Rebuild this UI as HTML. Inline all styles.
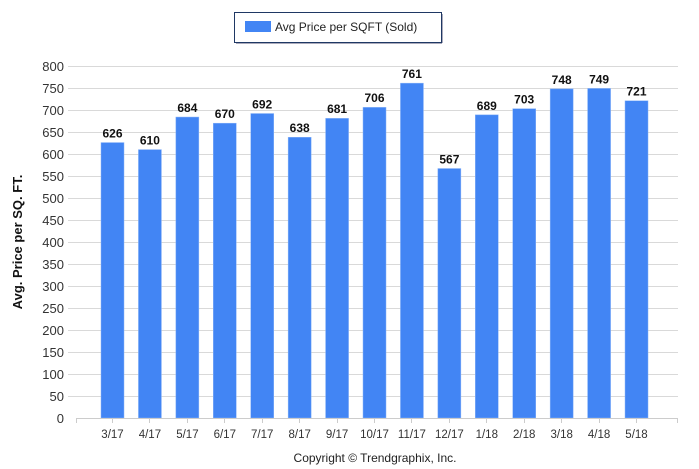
<!DOCTYPE html>
<html><head><meta charset="utf-8"><style>
body{margin:0;background:#fff;}
svg{display:block;font-family:"Liberation Sans",sans-serif;}
</style></head><body>
<svg width="699" height="469" viewBox="0 0 699 469" xmlns="http://www.w3.org/2000/svg">
<rect x="234.5" y="12.5" width="207" height="30" fill="#fff" stroke="#1f3864" stroke-width="1"/>
<line x1="236" y1="43.5" x2="442" y2="43.5" stroke="#aab"/>
<line x1="442.5" y1="14" x2="442.5" y2="43" stroke="#aab"/>
<rect x="245" y="21" width="26" height="11" fill="#4285f4"/>
<text x="275" y="31" font-size="12" fill="#222">Avg Price per SQFT (Sold)</text>
<g stroke="#d9d9d9" stroke-width="1">
<line x1="68" y1="66.5" x2="678" y2="66.5"/><line x1="68" y1="88.5" x2="678" y2="88.5"/>
<line x1="68" y1="110.5" x2="678" y2="110.5"/><line x1="68" y1="132.5" x2="678" y2="132.5"/>
<line x1="68" y1="154.5" x2="678" y2="154.5"/><line x1="68" y1="176.5" x2="678" y2="176.5"/>
<line x1="68" y1="198.5" x2="678" y2="198.5"/><line x1="68" y1="220.5" x2="678" y2="220.5"/>
<line x1="68" y1="242.5" x2="678" y2="242.5"/><line x1="68" y1="264.5" x2="678" y2="264.5"/>
<line x1="68" y1="286.5" x2="678" y2="286.5"/><line x1="68" y1="308.5" x2="678" y2="308.5"/>
<line x1="68" y1="330.5" x2="678" y2="330.5"/><line x1="68" y1="352.5" x2="678" y2="352.5"/>
<line x1="68" y1="374.5" x2="678" y2="374.5"/><line x1="68" y1="396.5" x2="678" y2="396.5"/>
</g>
<g font-size="13" fill="#333" text-anchor="end">
<text x="64" y="71">800</text><text x="64" y="93">750</text><text x="64" y="115">700</text>
<text x="64" y="137">650</text><text x="64" y="159">600</text><text x="64" y="181">550</text>
<text x="64" y="203">500</text><text x="64" y="225">450</text><text x="64" y="247">400</text>
<text x="64" y="269">350</text><text x="64" y="291">300</text><text x="64" y="313">250</text>
<text x="64" y="335">200</text><text x="64" y="357">150</text><text x="64" y="379">100</text>
<text x="64" y="401">50</text><text x="64" y="423">0</text>
</g>
<g fill="#4285f4" stroke="#8ab4f8" stroke-width="0.5">
<rect x="101" y="142.56" width="23" height="275.44"/>
<rect x="138.43" y="149.6" width="23" height="268.4"/>
<rect x="175.86" y="117.04" width="23" height="300.96"/>
<rect x="213.29" y="123.2" width="23" height="294.8"/>
<rect x="250.72" y="113.52" width="23" height="304.48"/>
<rect x="288.15" y="137.28" width="23" height="280.72"/>
<rect x="325.58" y="118.36" width="23" height="299.64"/>
<rect x="363.01" y="107.36" width="23" height="310.64"/>
<rect x="400.44" y="83.16" width="23" height="334.84"/>
<rect x="437.87" y="168.52" width="23" height="249.48"/>
<rect x="475.3" y="114.84" width="23" height="303.16"/>
<rect x="512.73" y="108.68" width="23" height="309.32"/>
<rect x="550.16" y="88.88" width="23" height="329.12"/>
<rect x="587.59" y="88.44" width="23" height="329.56"/>
<rect x="625.02" y="100.76" width="23" height="317.24"/>
</g>
<g font-size="12" font-weight="bold" fill="#111" text-anchor="middle">
<text x="112.5" y="137.5">626</text><text x="149.9" y="144.5">610</text>
<text x="187.4" y="112">684</text><text x="224.8" y="118">670</text>
<text x="262.2" y="108.5">692</text><text x="299.7" y="132">638</text>
<text x="337.1" y="113">681</text><text x="374.5" y="102">706</text>
<text x="411.9" y="78">761</text><text x="449.4" y="163.5">567</text>
<text x="486.8" y="110">689</text><text x="524.2" y="103.5">703</text>
<text x="561.7" y="84">748</text><text x="599.1" y="83.5">749</text>
<text x="636.5" y="95.5">721</text>
</g>
<line x1="76" y1="418.5" x2="678" y2="418.5" stroke="#ccc"/>
<g stroke="#ccc">
<line x1="76.5" y1="418" x2="76.5" y2="423"/><line x1="677.5" y1="418" x2="677.5" y2="423"/>
<line x1="112.5" y1="418" x2="112.5" y2="423"/><line x1="149.5" y1="418" x2="149.5" y2="423"/>
<line x1="187.5" y1="418" x2="187.5" y2="423"/><line x1="224.5" y1="418" x2="224.5" y2="423"/>
<line x1="262.5" y1="418" x2="262.5" y2="423"/><line x1="299.5" y1="418" x2="299.5" y2="423"/>
<line x1="337.5" y1="418" x2="337.5" y2="423"/><line x1="374.5" y1="418" x2="374.5" y2="423"/>
<line x1="411.5" y1="418" x2="411.5" y2="423"/><line x1="449.5" y1="418" x2="449.5" y2="423"/>
<line x1="486.5" y1="418" x2="486.5" y2="423"/><line x1="524.5" y1="418" x2="524.5" y2="423"/>
<line x1="561.5" y1="418" x2="561.5" y2="423"/><line x1="599.5" y1="418" x2="599.5" y2="423"/>
<line x1="636.5" y1="418" x2="636.5" y2="423"/>
</g>
<g font-size="11.5" fill="#333" text-anchor="middle">
<text x="112.5" y="438">3/17</text><text x="149.9" y="438">4/17</text>
<text x="187.4" y="438">5/17</text><text x="224.8" y="438">6/17</text>
<text x="262.2" y="438">7/17</text><text x="299.7" y="438">8/17</text>
<text x="337.1" y="438">9/17</text><text x="374.5" y="438">10/17</text>
<text x="411.9" y="438">11/17</text><text x="449.4" y="438">12/17</text>
<text x="486.8" y="438">1/18</text><text x="524.2" y="438">2/18</text>
<text x="561.7" y="438">3/18</text><text x="599.1" y="438">4/18</text>
<text x="636.5" y="438">5/18</text>
</g>
<text transform="translate(22,242) rotate(-90)" text-anchor="middle" font-size="13" font-weight="bold" fill="#111">Avg. Price per SQ. FT.</text>
<text x="375" y="462" text-anchor="middle" font-size="12" fill="#222">Copyright © Trendgraphix, Inc.</text>
</svg>
</body></html>
